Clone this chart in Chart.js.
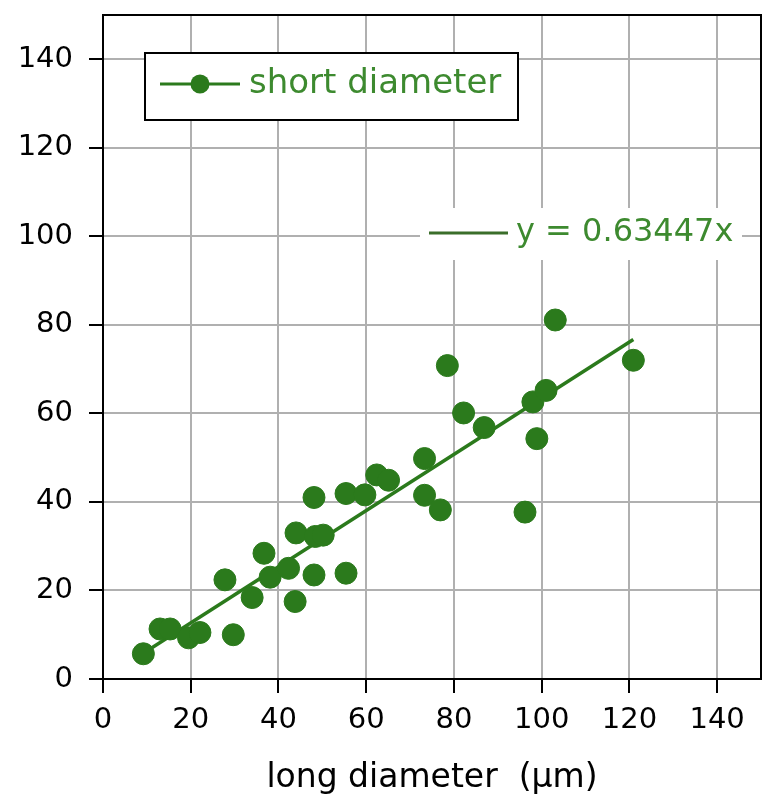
<!DOCTYPE html>
<html>
<head>
<meta charset="utf-8">
<script src="https://cdn.jsdelivr.net/npm/chart.js@4"></script>
<style>
  html, body { margin: 0; background: #fff; overflow: hidden; }
  /* a little wider than the window so the frame lands at the right edge */
  #wrap { width: 773px; height: 802px; }
</style>
</head>
<body>
<div id="wrap"><canvas id="scatterChart"></canvas></div>
<script>
// long diameter (x) and short diameter (y), in µm
const longDiameter = [9.2, 13, 15.3, 19.5, 22.1, 27.8, 29.7, 34, 36.7, 38.1, 42.3, 43.8, 44, 48.1, 48.1, 48.4, 50.2, 55.4, 55.4, 59.7, 62.4, 65.1, 73.3, 73.3, 76.9, 78.5, 82.2, 86.9, 96.2, 98, 98.9, 101, 103.1, 120.9];
const shortDiameter = [5.7, 11.3, 11.3, 9.3, 10.5, 22.4, 10, 18.4, 28.4, 23, 25, 17.5, 33, 23.5, 41, 32.2, 32.5, 23.9, 41.9, 41.6, 46.1, 44.9, 49.8, 41.5, 38.2, 70.8, 60.1, 56.8, 37.7, 62.6, 54.3, 65.2, 81.1, 72];
const trendSlope = 0.63447;
const seriesLabel = "short diameter";
const equationLabel = "y = 0.63447x";
const xTitle = "long diameter  (µm)";

const green = "#2b7a1c";
const textGreen = "#3d8a2f";
const font = "'DejaVu Sans', sans-serif";

const points = longDiameter.map((x, i) => ({ x: x, y: shortDiameter[i] }));
const minX = Math.min(...longDiameter);
const maxX = Math.max(...longDiameter);
const trend = [
  { x: minX, y: trendSlope * minX },
  { x: maxX, y: trendSlope * maxX },
];

// frame, legend box and equation label
const decorations = {
  id: "decorations",
  afterDatasetsDraw(chart) {
    const ctx = chart.ctx;
    const a = chart.chartArea;
    ctx.save();

    // outer frame
    ctx.strokeStyle = "#000";
    ctx.lineWidth = 2;
    ctx.strokeRect(a.left, a.top, a.right - a.left, a.bottom - a.top);

    // legend box
    const lx = a.left + 42, ly = a.top + 38;
    ctx.fillStyle = "#fff";
    ctx.fillRect(lx, ly, 373, 67);
    ctx.strokeRect(lx, ly, 373, 67);
    const cy = ly + 31;
    ctx.strokeStyle = green;
    ctx.lineWidth = 3;
    ctx.beginPath();
    ctx.moveTo(lx + 15, cy);
    ctx.lineTo(lx + 95, cy);
    ctx.stroke();
    ctx.fillStyle = green;
    ctx.beginPath();
    ctx.arc(lx + 55, cy, 9.5, 0, Math.PI * 2);
    ctx.fill();
    ctx.fillStyle = textGreen;
    ctx.font = "34px " + font;
    ctx.textBaseline = "middle";
    ctx.textAlign = "left";
    ctx.fillText(seriesLabel, lx + 104, cy);

    // equation label
    const ex = a.left + 317, ey = a.top + 193;
    ctx.fillStyle = "#fff";
    ctx.fillRect(ex, ey, 322, 52);
    const ecy = ey + 25;
    ctx.strokeStyle = "#3a6e2a";
    ctx.lineWidth = 3;
    ctx.beginPath();
    ctx.moveTo(ex + 9, ecy);
    ctx.lineTo(ex + 88, ecy);
    ctx.stroke();
    ctx.fillStyle = textGreen;
    ctx.font = "32px " + font;
    ctx.fillText(equationLabel, ex + 96, ecy);

    ctx.restore();
  },
};

const ctx = document.getElementById("scatterChart").getContext("2d");
const myChart = new Chart(ctx, {
  type: "scatter",
  data: {
    datasets: [
      {
        label: seriesLabel,
        data: points,
        backgroundColor: green,
        borderColor: green,
        pointRadius: 11,
        pointHoverRadius: 11,
        order: 1,
      },
      {
        type: "line",
        label: "trend",
        data: trend,
        borderColor: green,
        borderWidth: 3.5,
        pointRadius: 0,
        fill: false,
        order: 2,
      },
    ],
  },
  options: {
    responsive: true,
    maintainAspectRatio: false,
    animation: false,
    layout: { padding: { top: 15, right: 4, left: 0, bottom: 0 } },
    plugins: {
      legend: { display: false },
      tooltip: { enabled: false },
    },
    scales: {
      x: {
        type: "linear",
        min: 0,
        max: 150,
        afterFit(scale) {
          scale.height = 123;
          scale.paddingRight = 0;
          scale.paddingLeft = 0;
        },
        border: { color: "#000", width: 2 },
        grid: {
          color: "#b0b0b0",
          lineWidth: 2,
          tickColor: "#000",
          tickWidth: 2,
          tickLength: 14,
        },
        ticks: {
          stepSize: 20,
          includeBounds: false,
          autoSkip: false,
          color: "#000",
          padding: 10,
          maxRotation: 0,
          font: { family: font, size: 29 },
        },
        title: {
          display: true,
          text: xTitle,
          color: "#000",
          padding: { top: 0 },
          font: { family: font, size: 33 },
        },
      },
      y: {
        type: "linear",
        min: 0,
        max: 150,
        afterFit(scale) {
          scale.width = 103;
          scale.paddingTop = 0;
          scale.paddingBottom = 0;
        },
        border: { color: "#000", width: 2 },
        grid: {
          color: "#b0b0b0",
          lineWidth: 2,
          tickColor: "#000",
          tickWidth: 2,
          tickLength: 14,
        },
        ticks: {
          stepSize: 20,
          includeBounds: false,
          autoSkip: false,
          color: "#000",
          padding: 16,
          font: { family: font, size: 29 },
        },
      },
    },
  },
  plugins: [decorations],
});
</script>
</body>
</html>
